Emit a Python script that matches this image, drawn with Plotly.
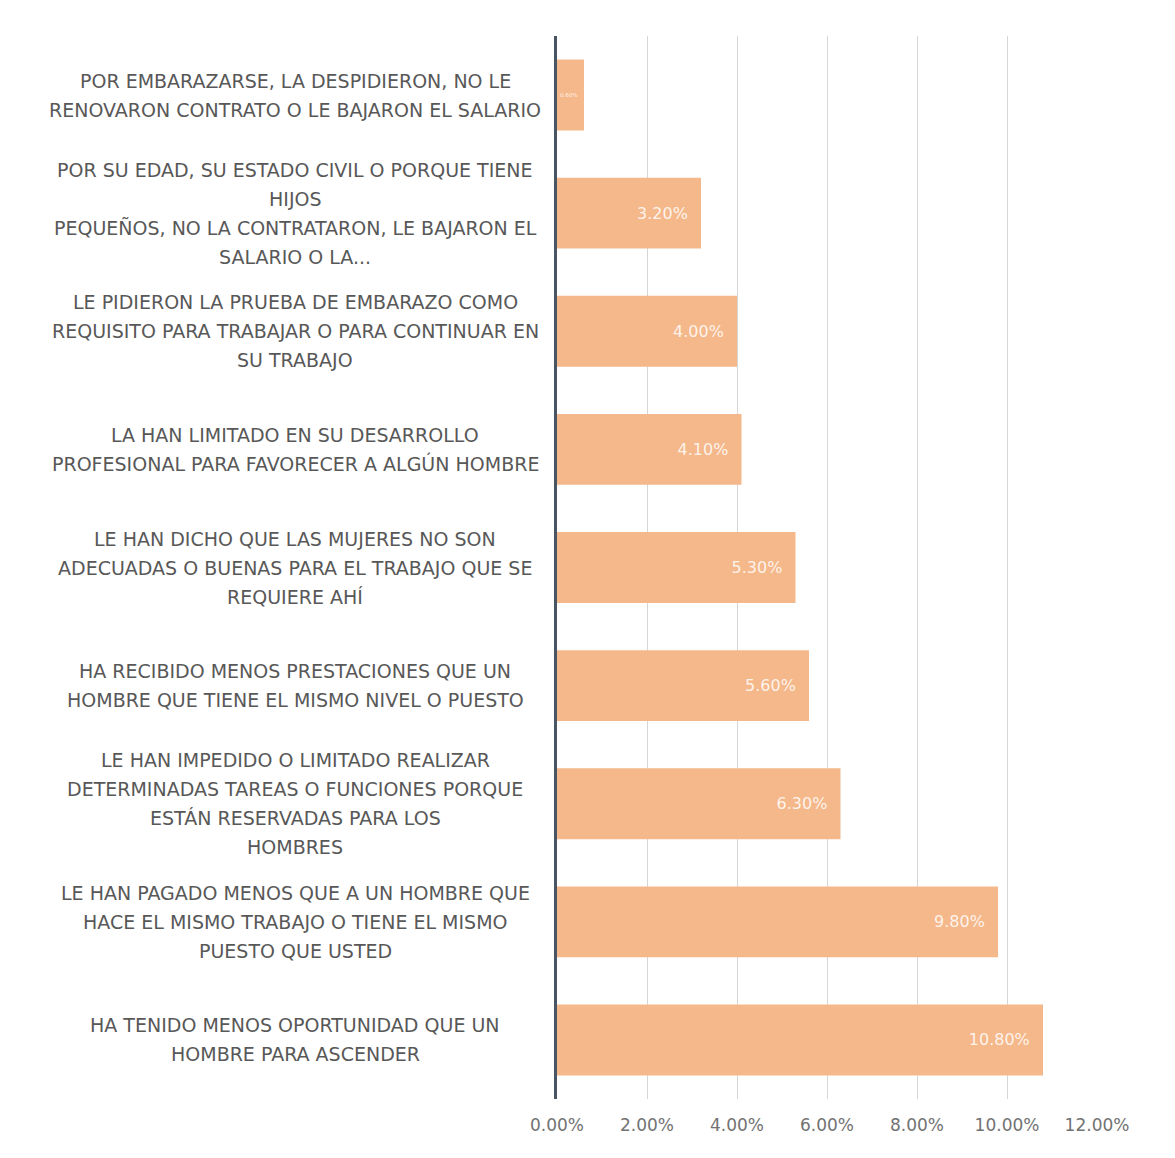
import plotly.graph_objects as go

# Categories listed top to bottom
categories = [
    "POR EMBARAZARSE, LA DESPIDIERON, NO LE<br>RENOVARON CONTRATO O LE BAJARON EL SALARIO",
    "POR SU EDAD, SU ESTADO CIVIL O PORQUE TIENE<br>HIJOS<br>PEQUEÑOS, NO LA CONTRATARON, LE BAJARON EL<br>SALARIO O LA...",
    "LE PIDIERON LA PRUEBA DE EMBARAZO COMO<br>REQUISITO PARA TRABAJAR O PARA CONTINUAR EN<br>SU TRABAJO",
    "LA HAN LIMITADO EN SU DESARROLLO<br>PROFESIONAL PARA FAVORECER A ALGÚN HOMBRE",
    "LE HAN DICHO QUE LAS MUJERES NO SON<br>ADECUADAS O BUENAS PARA EL TRABAJO QUE SE<br>REQUIERE AHÍ",
    "HA RECIBIDO MENOS PRESTACIONES QUE UN<br>HOMBRE QUE TIENE EL MISMO NIVEL O PUESTO",
    "LE HAN IMPEDIDO O LIMITADO REALIZAR<br>DETERMINADAS TAREAS O FUNCIONES PORQUE<br>ESTÁN RESERVADAS PARA LOS<br>HOMBRES",
    "LE HAN PAGADO MENOS QUE A UN HOMBRE QUE<br>HACE EL MISMO TRABAJO O TIENE EL MISMO<br>PUESTO QUE USTED",
    "HA TENIDO MENOS OPORTUNIDAD QUE UN<br>HOMBRE PARA ASCENDER",
]
values = [0.6, 3.2, 4.0, 4.1, 5.3, 5.6, 6.3, 9.8, 10.8]
tick_values = [0, 2, 4, 6, 8, 10, 12]
tick_labels = [f"{v:.2f}%" for v in tick_values]

keys = [f"c{i}" for i in range(len(categories))]

BAR = "#F5B88A"
LABEL = "#585858"
FONT = "DejaVu Sans"

fig = go.Figure(
    go.Bar(
        x=values,
        y=keys,
        orientation="h",
        marker=dict(color=BAR, line=dict(width=0)),
        texttemplate="%{x:.2f}%&nbsp;&nbsp;",
        textposition="inside",
        insidetextanchor="end",
        textangle=0,
        insidetextfont=dict(color="rgba(255,255,255,0.85)", size=16, family=FONT),
        width=0.6,
    )
)

# Centered multi-line category labels, one annotation per line
line_h = 29
for key, label in zip(keys, categories):
    lines = label.split("<br>")
    n = len(lines)
    for j, ln in enumerate(lines):
        fig.add_annotation(
            x=0.0, xref="paper", xanchor="center", xshift=-262,
            y=key, yref="y", yanchor="middle",
            yshift=((n - 1) / 2 - j) * line_h,
            text=ln, showarrow=False,
            font=dict(family=FONT, size=19, color=LABEL),
        )

fig.update_layout(
    width=1175, height=1158,
    margin=dict(l=557, r=78, t=36, b=59),
    paper_bgcolor="white", plot_bgcolor="white",
    showlegend=False,
    xaxis=dict(
        range=[0, 12], tickvals=tick_values, ticktext=tick_labels,
        showgrid=True, gridcolor="#d6d6d6", gridwidth=1,
        zeroline=False, showline=False,
        tickfont=dict(family=FONT, size=17, color="#727272"),
        ticks="", ticklen=0, ticklabelstandoff=14,
    ),
    yaxis=dict(
        categoryorder="array", categoryarray=keys[::-1],
        showticklabels=False, showgrid=False, zeroline=False,
        showline=True, linecolor="#4a5563", linewidth=3,
        range=[-0.5, len(keys) - 0.5],
    ),
    bargap=0.4,
)

fig.write_html("out.html")
